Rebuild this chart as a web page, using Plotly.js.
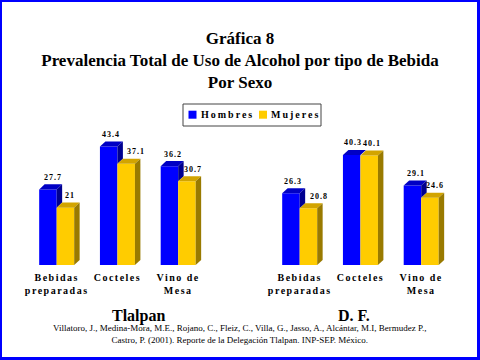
<!DOCTYPE html>
<html>
<head>
<meta charset="utf-8">
<script src="https://cdn.plot.ly/plotly-3.0.1.min.js"></script>
<style>
  html, body { margin: 0; padding: 0; background: #fff; }
  #wrap { position: relative; width: 480px; height: 360px; }
  #chart { width: 480px; height: 360px; }
  #frame { position: absolute; left: 0; top: 0; right: 0; bottom: 0; box-sizing: border-box;
           border-style: solid; border-color: #0000ff; border-width: 2px 3px 3px 2px; pointer-events: none; }
  .xtick text { letter-spacing: 1.5px; }
</style>
</head>
<body>
<div id="wrap"><div id="chart"></div><div id="frame"></div></div>
<script>
// ---- data ----
const regions = ['Tlalpan', 'D. F.'];
const categories = ['Bebidas preparadas', 'Cocteles', 'Vino de Mesa'];
const tickLabels = ['Bebidas<br>preparadas', 'Cocteles', 'Vino de<br>Mesa'];
const seriesNames = ['Hombres', 'Mujeres'];
const hombresTlalpan = [27.7, 43.4, 36.2];
const mujeresTlalpan = [21, 37.1, 30.7];
const hombresDF = [26.3, 40.3, 29.1];
const mujeresDF = [20.8, 40.1, 24.6];
const titleText = 'Gráfica 8<br>Prevalencia Total de Uso de Alcohol por tipo de Bebida<br>Por Sexo';
const sourceText = 'Villatoro, J., Medina-Mora, M.E., Rojano, C., Fleiz, C., Villa, G., Jasso, A., Alcántar, M.I, Bermudez P.,<br>Castro, P. (2001). Reporte de la Delegación Tlalpan. INP-SEP. México.';

// ---- layout / style constants ----
const serif = "'Liberation Serif', 'Times New Roman', serif";
const W = 0.288;      // bar width (x units)
const DX = 0.09;      // depth offset x (x units)
const DY = 1.85;      // depth offset y (value units)
const frontColors = ['#0000ff', '#ffcc00'];
const topColors = ['#0000c4', '#d2a400'];
const sideColors = ['#000090', '#997a00'];
// horizontal nudges of the value labels (pixels), as placed in the original
const labelShiftH = [5.5, 2.8, 4, 1.7, 1, 3.3];
const labelShiftM = [5, 9.7, 6, 11, 2.5, 5];

const hombres = hombresTlalpan.concat(hombresDF);
const mujeres = mujeresTlalpan.concat(mujeresDF);
const xpos = [];
regions.forEach((r, ri) => categories.forEach((c, ci) => xpos.push(ri * 4 + ci)));

const traces = [];
[hombres, mujeres].forEach((vals, s) => {
  traces.push({
    type: 'bar', name: seriesNames[s], x: xpos, y: vals,
    width: W, offset: s === 0 ? -W : 0,
    marker: { color: frontColors[s], line: { width: 0 } },
    hoverinfo: 'skip', showlegend: false
  });
});
function poly(pts, color) {
  traces.push({
    type: 'scatter', mode: 'lines', x: pts.map(p => p[0]).concat([pts[0][0]]),
    y: pts.map(p => p[1]).concat([pts[0][1]]), fill: 'toself', fillcolor: color,
    line: { width: 0, color: color }, showlegend: false, hoverinfo: 'skip'
  });
}
xpos.forEach((c, k) => {
  const vh = hombres[k], vm = mujeres[k];
  poly([[c - W, vh], [c, vh], [c + DX, vh + DY], [c - W + DX, vh + DY]], topColors[0]);
  if (vh > vm) poly([[c, vm], [c + DX, vm + DY], [c + DX, vh + DY], [c, vh]], sideColors[0]);
  poly([[c, vm], [c + W, vm], [c + W + DX, vm + DY], [c + DX, vm + DY]], topColors[1]);
  poly([[c + W, 0], [c + W + DX, DY], [c + W + DX, vm + DY], [c + W, vm]], sideColors[1]);
});

const tickvals = [], ticktext = [];
regions.forEach((r, ri) => tickLabels.forEach((t, ci) => { tickvals.push(ri * 4 + ci); ticktext.push(t); }));

const px = v => v / 480, py = v => 1 - v / 360;
const annotations = [];
// value labels
[hombres, mujeres].forEach((vals, s) => {
  vals.forEach((v, k) => {
    annotations.push({
      x: xpos[k] + (s === 0 ? -W / 2 : W / 2), y: v, xref: 'x', yref: 'y',
      xanchor: 'center', yanchor: 'middle', showarrow: false,
      xshift: (s === 0 ? labelShiftH : labelShiftM)[k], yshift: 12,
      text: '<span style="letter-spacing:1px">' + v + '</span>',
      font: { family: serif, size: 8, weight: 'bold', color: '#000' }
    });
  });
});
// region labels
[138.3, 354].forEach((xc, ri) => annotations.push({
  text: regions[ri], xref: 'paper', yref: 'paper', x: px(xc), y: py(315.5),
  xanchor: 'center', yanchor: 'middle', showarrow: false,
  font: { family: serif, size: 16, weight: 'bold', color: '#000' }
}));
// source
annotations.push({
  text: sourceText, xref: 'paper', yref: 'paper', x: 0.5, y: py(333.5),
  xanchor: 'center', yanchor: 'middle', showarrow: false,
  font: { family: serif, size: 9, color: '#000' }
});
// legend (boxed, as in the original)
const shapes = [
  { type: 'rect', xref: 'paper', yref: 'paper', x0: px(183), x1: px(321), y0: py(104), y1: py(126),
    line: { color: '#444', width: 1 }, fillcolor: '#fff', layer: 'below' }
];
const legendSquareX = [188.5, 259];
const legendTextX = [198.5, 268.5];
seriesNames.forEach((n, s) => {
  shapes.push({ type: 'rect', xref: 'paper', yref: 'paper',
    x0: px(legendSquareX[s]), x1: px(legendSquareX[s] + 8), y0: py(110.7), y1: py(118.7),
    line: { width: 0 }, fillcolor: frontColors[s] });
  annotations.push({ text: '<span style="letter-spacing:2px">' + n + '</span>',
    xref: 'paper', yref: 'paper', x: px(legendTextX[s]), y: py(115), xanchor: 'left', yanchor: 'middle',
    showarrow: false, font: { family: serif, size: 10, weight: 'bold', color: '#000' } });
});

const layout = {
  width: 480, height: 360,
  margin: { l: 0, r: 0, t: 0, b: 0, pad: 0 },
  paper_bgcolor: '#fff', plot_bgcolor: 'rgba(0,0,0,0)',
  barmode: 'overlay',
  showlegend: false,
  title: {
    text: titleText, x: 0.5, xanchor: 'center', xref: 'paper',
    y: py(44), yanchor: 'top', yref: 'container',
    font: { family: serif, size: 17, weight: 'bold', color: '#000' }
  },
  xaxis: {
    domain: [0, 1], range: [-0.933, 6.968], showgrid: false, zeroline: false, showline: false,
    ticks: '', tickvals: tickvals, ticktext: ticktext, ticklabelstandoff: 5,
    tickfont: { family: serif, size: 10, weight: 'bold', color: '#000' }, fixedrange: true
  },
  yaxis: {
    domain: [py(265), py(128.5)], range: [0, 50], visible: false, fixedrange: true
  },
  shapes: shapes,
  annotations: annotations
};

Plotly.newPlot('chart', traces, layout, { displayModeBar: false, staticPlot: true });
</script>
</body>
</html>
